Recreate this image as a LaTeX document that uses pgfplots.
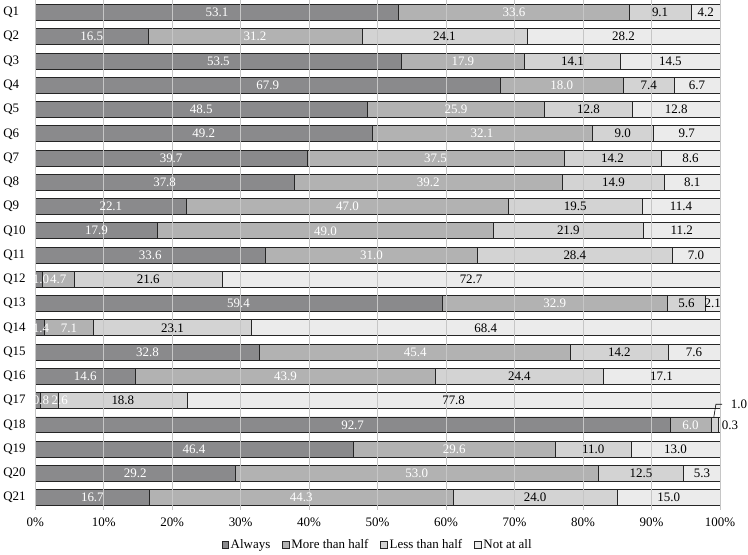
\documentclass[border=0pt]{standalone}
\usepackage{pgfplots}
\usepackage{pgfplotstable}
\pgfplotsset{compat=1.18}
\usepackage{fontspec}
\setmainfont{Liberation Serif}

\definecolor{cA}{HTML}{8A8A8C}
\definecolor{cB}{HTML}{B2B2B2}
\definecolor{cC}{HTML}{D3D3D3}
\definecolor{cD}{HTML}{EBEBEB}

\pgfplotstableread{
y a b c d
0 53.1 33.6 9.1 4.2
1 16.5 31.2 24.1 28.2
2 53.5 17.9 14.1 14.5
3 67.9 18.0 7.4 6.7
4 48.5 25.9 12.8 12.8
5 49.2 32.1 9.0 9.7
6 39.7 37.5 14.2 8.6
7 37.8 39.2 14.9 8.1
8 22.1 47.0 19.5 11.4
9 17.9 49.0 21.9 11.2
10 33.6 31.0 28.4 7.0
11 1.0 4.7 21.6 72.7
12 59.4 32.9 5.6 2.1
13 1.4 7.1 23.1 68.4
14 32.8 45.4 14.2 7.6
15 14.6 43.9 24.4 17.1
16 0.8 2.6 18.8 77.8
17 92.7 6.0 1.0 0.3
18 46.4 29.6 11.0 13.0
19 29.2 53.0 12.5 5.3
20 16.7 44.3 24.0 15.0
}\data
\pgfplotstablecreatecol[create col/expr={max(\thisrow{a}/2,0.85)}]{pa}\data
\pgfplotstablecreatecol[create col/expr={\thisrow{a}+\thisrow{b}/2}]{pb}\data
\pgfplotstablecreatecol[create col/expr={\thisrow{a}+\thisrow{b}+\thisrow{c}/2}]{pc}\data
\pgfplotstablecreatecol[create col/expr={\thisrow{a}+\thisrow{b}+\thisrow{c}+\thisrow{d}/2}]{pd}\data

\pgfplotsset{
  sqlegend/.style={legend image code/.code={\draw[##1,line width=0.6pt] (0pt,-3.3pt) rectangle (6.6pt,3.3pt);}},
  common/.style={scale only axis, width=687pt, height=511pt,
    xmin=0, xmax=100, ymin=-0.5, ymax=20.5, y dir=reverse},
}

\begin{document}
\begin{tikzpicture}[font=\fontsize{13}{15}\selectfont]
\begin{axis}[
  common,
  xbar stacked, bar width=16pt,
  xtick={0,10,...,100},
  xticklabels={0\%,10\%,20\%,30\%,40\%,50\%,60\%,70\%,80\%,90\%,100\%},
  ytick={0,...,20},
  yticklabels={Q1,Q2,Q3,Q4,Q5,Q6,Q7,Q8,Q9,Q10,Q11,Q12,Q13,Q14,Q15,Q16,Q17,Q18,Q19,Q20,Q21},
  yticklabel style={anchor=west, xshift=-35.5pt},
  xticklabel style={yshift=-5pt},
  major tick length=0pt,
  axis line style={draw=none},
  xmajorgrids, grid style={gray!45, line width=0.7pt},
  axis on top,
  /pgf/number format/assume math mode=true,
  legend style={at={(0.5,-0.05)}, anchor=north, legend columns=4, draw=none, fill=none,
    /tikz/every even column/.append style={column sep=10pt}},
  legend cell align=left,
]
\addplot[fill=cA, draw=black!85, line width=0.7pt, sqlegend] table[x=a,y=y]{\data};
\addplot[fill=cB, draw=black!85, line width=0.7pt, sqlegend] table[x=b,y=y]{\data};
\addplot[fill=cC, draw=black!85, line width=0.7pt, sqlegend] table[x=c,y=y]{\data};
\addplot[fill=cD, draw=black!85, line width=0.7pt, sqlegend] table[x=d,y=y]{\data};
\legend{Always, More than half, Less than half, Not at all}
\end{axis}
\begin{axis}[
  common, hide axis, clip=false,
  point meta=explicit symbolic,
  nodes near coords, nodes near coords align={center},
]
\addplot[draw=none, mark=none, every node near coord/.append style={white, anchor=center}] table[x=pa,y=y,meta=a]{\data};
\addplot[draw=none, mark=none, skip coords between index={16}{17}, every node near coord/.append style={white, anchor=center}] table[x=pb,y=y,meta=b]{\data};
\addplot[draw=none, mark=none, skip coords between index={17}{18}, every node near coord/.append style={black, anchor=center}] table[x=pc,y=y,meta=c]{\data};
\addplot[draw=none, mark=none, skip coords between index={17}{18}, every node near coord/.append style={black, anchor=center}] table[x=pd,y=y,meta=d]{\data};
\node[white, anchor=center] at (axis cs:3.6,16) {2.6};
\draw[black, line width=0.6pt] (axis cs:99.1,16.67) -- (axis cs:99.4,16.15) -- (axis cs:100.3,16.15);
\node[anchor=west, inner sep=1pt] at (axis cs:101.4,16.15) {1.0};
\node[anchor=west, inner sep=1pt] at (axis cs:100.1,17) {0.3};
\end{axis}
\end{tikzpicture}
\end{document}
